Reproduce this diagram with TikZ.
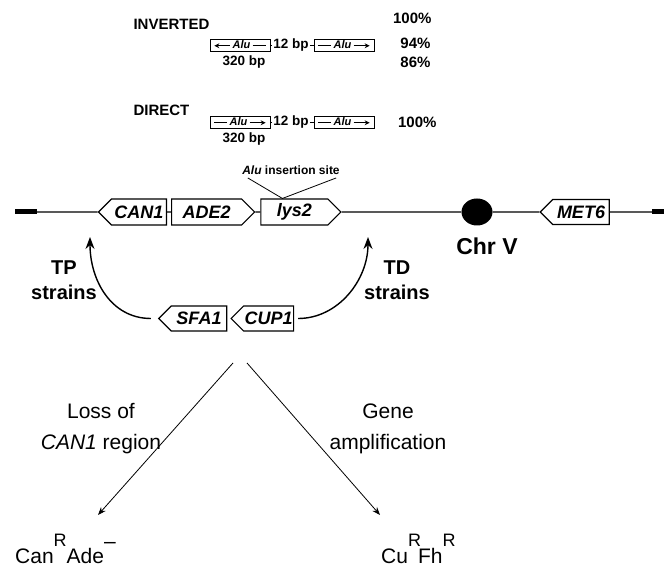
\documentclass[tikz,border=0pt]{standalone}
\usepackage{fontspec}
\setmainfont{Liberation Sans}
\usetikzlibrary{positioning,shapes.symbols,shapes.geometric,arrows.meta}

% little arrows and dashes inside the Alu boxes
\newcommand{\alutail}{\tikz[baseline=-0.55ex]\draw[line width=0.9pt] (0pt,0pt) -- (13pt,0pt);}
\newcommand{\aluhead}{\tikz[baseline=-0.55ex]\draw[line width=0.9pt,-{Stealth[length=5pt,width=5pt]}] (0pt,0pt) -- (16pt,0pt);}
\newcommand{\aluheadl}{\tikz[baseline=-0.55ex]\draw[line width=0.9pt,{Stealth[length=5pt,width=5pt]}-] (0pt,0pt) -- (16pt,0pt);}

\begin{document}
\begin{tikzpicture}[x=1pt, y=-1pt,
  genebox/.style={draw, line width=1.1pt, fill=white, signal, signal pointer angle=90,
    minimum height=26pt, inner sep=1pt, font=\fontsize{18}{18}\selectfont\bfseries\itshape},
  alubox/.style={draw, line width=0.8pt, minimum width=60pt, minimum height=12pt, inner sep=0pt,
    font=\fontsize{11}{11}\selectfont\bfseries},
  headtxt/.style={font=\fontsize{15}{15}\selectfont\bfseries},
  bptxt/.style={font=\fontsize{13.5}{13.5}\selectfont\bfseries, inner sep=1pt},
  sitetxt/.style={font=\fontsize{12}{12}\selectfont\bfseries},
  chrtxt/.style={font=\fontsize{23}{23}\selectfont\bfseries},
  straintxt/.style={align=center, font=\fontsize{20}{25}\selectfont\bfseries},
  routetxt/.style={align=center, font=\fontsize{21}{31}\selectfont},
  phenotxt/.style={font=\fontsize{21}{21}\selectfont, inner sep=0pt},
  chrline/.style={line width=1.3pt},
  bigarrow/.style={line width=1.4pt, -{Stealth[length=12pt,width=9pt]}},
  thinarrow/.style={line width=0.8pt, -{Stealth[length=8pt,width=6pt]}}]

  \useasboundingbox (0,0) rectangle (664,569);

  % Inverted repeat
  \node[headtxt, anchor=west] (inv) at (130,24) {INVERTED};
  \node[alubox] (I1) at (240,45) {\aluheadl\,\textit{Alu}\,\alutail};
  \node[bptxt] (Ibp) at (291,45) {12 bp};
  \node[alubox] (I2) at (344,45) {\alutail\,\textit{Alu}\,\aluhead};
  \node[bptxt] (Ilen) at (244,62) {320 bp};
  \draw[line width=0.8pt] (I1.east) -- (Ibp.west);
  \draw[line width=0.8pt] (Ibp.east) -- (I2.west);
  \node[headtxt, anchor=east] (P1) at (435,18) {100\%};
  \node[headtxt, anchor=east] (P2) at (434,43) {94\%};
  \node[headtxt, anchor=east] (P3) at (434,62) {86\%};

  % Direct repeat
  \node[headtxt, anchor=west] (dir) at (130,110) {DIRECT};
  \node[alubox] (D1) at (240,122) {\alutail\,\textit{Alu}\,\aluhead};
  \node[bptxt] (Dbp) at (291,122) {12 bp};
  \node[alubox] (D2) at (344,122) {\alutail\,\textit{Alu}\,\aluhead};
  \node[bptxt] (Dlen) at (244,139) {320 bp};
  \draw[line width=0.8pt] (D1.east) -- (Dbp.west);
  \draw[line width=0.8pt] (Dbp.east) -- (D2.west);
  \node[headtxt, anchor=east] (P4) at (440,122) {100\%};

  % Chromosome V
  \node[fill, minimum width=22pt, minimum height=5pt, inner sep=0pt] (lend) at (26,212) {};
  \node[genebox, signal to=west, minimum width=68pt] (can1) at (139,212) {CAN1};
  \node[genebox, signal to=east, minimum width=83pt, right=4pt of can1] (ade2) {ADE2};
  \node[genebox, signal to=east, minimum width=80pt, right=5pt of ade2] (lys2) {lys2};
  \node[ellipse, fill, minimum width=31pt, minimum height=27pt, inner sep=0pt] (cen) at (477,212) {};
  \node[genebox, signal to=west, minimum width=69pt, minimum height=25pt] (met6) at (581,212) {MET6};
  \node[fill, minimum width=14pt, minimum height=5pt, inner sep=0pt] (rend) at (659,212) {};
  \draw[chrline] (lend) -- (can1);
  \draw[chrline] (can1) -- (ade2);
  \draw[chrline] (ade2) -- (lys2);
  \draw[chrline] (lys2) -- (cen);
  \draw[chrline] (cen) -- (met6);
  \draw[chrline] (met6) -- (rend);
  \node[chrtxt] (chr) at (487,246) {Chr V};

  % Alu insertion site
  \node[sitetxt] (site) at (291,170) {\textit{Alu} insertion site};
  \coordinate (ins) at ([xshift=-12pt]lys2.north);
  \draw[line width=0.8pt] ([xshift=9pt]site.south west) -- (ins) -- ([xshift=-7pt]site.south east);

  % SFA1 CUP1 cassette
  \node[genebox, signal to=west, minimum width=68pt, minimum height=25pt] (sfa1) at (199,318.5) {SFA1};
  \node[genebox, signal to=west, minimum width=62pt, minimum height=25pt, right=3pt of sfa1] (cup1) {CUP1};
  \coordinate (tp) at (90,237);
  \coordinate (td) at (368,237);
  \draw[bigarrow] ([xshift=-7pt]sfa1.west) .. controls +(-40,0) and (90,280) .. (tp);
  \draw[bigarrow] ([xshift=4pt]cup1.east) .. controls +(40,0) and (368,280) .. (td);
  \node[straintxt] (tpl) at (64,280) {TP\\strains};
  \node[straintxt] (tdl) at (397,280) {TD\\strains};

  % Outcomes
  \coordinate (apexl) at (233,363);
  \coordinate (apexr) at (247,363);
  \coordinate (tipl) at (98,515);
  \coordinate (tipr) at (380,515);
  \draw[thinarrow] (apexl) -- (tipl);
  \draw[thinarrow] (apexr) -- (tipr);
  \node[routetxt] (loss) at (101,429) {Loss of\\\textit{CAN1} region};
  \node[routetxt] (amp) at (388,429) {Gene\\amplification};
  \node[phenotxt, anchor=base west] (canr) at (15,563)
    {Can\raisebox{17pt}{\fontsize{18}{18}\selectfont R}Ade\raisebox{15pt}{--}};
  \node[phenotxt, anchor=base west] (cur) at (381,563)
    {Cu\raisebox{17pt}{\fontsize{18}{18}\selectfont R}\kern-3pt Fh\raisebox{17pt}{\fontsize{18}{18}\selectfont R}};

\end{tikzpicture}
\end{document}
